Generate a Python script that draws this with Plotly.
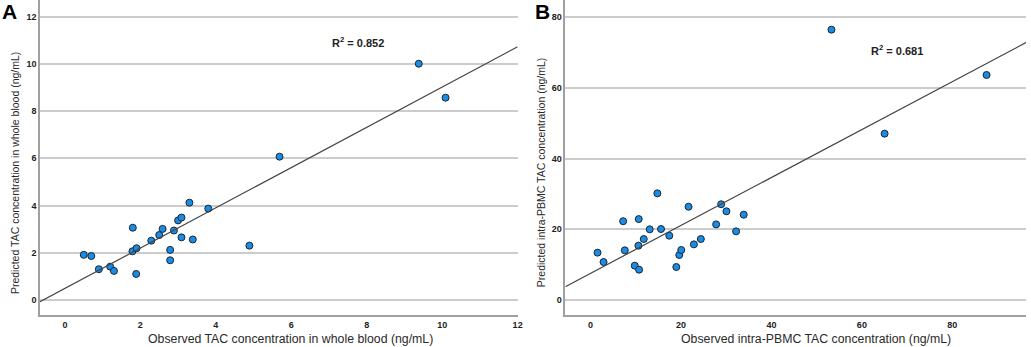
import plotly.graph_objects as go

# Panel A: whole blood
obs_a = [0.50, 0.70, 0.90, 1.20, 1.30, 1.80, 1.79, 1.90, 1.89, 2.29, 2.50, 2.59, 2.89,
         2.79, 2.79, 3.00, 3.09, 3.09, 3.30, 3.39, 3.80, 4.89, 5.69, 9.38, 10.09]
pred_a = [1.91, 1.86, 1.30, 1.41, 1.23, 3.06, 2.06, 2.19, 1.10, 2.51, 2.75, 3.01, 2.94,
          2.12, 1.68, 3.37, 3.49, 2.65, 4.12, 2.56, 3.87, 2.30, 6.07, 10.01, 8.57]
fit_a = (0.49, 0.853)  # intercept, slope
r2_a = "0.852"

# Panel B: intra-PBMC
obs_b = [1.54, 2.87, 7.20, 7.57, 9.77, 10.65, 10.58, 10.73, 11.76, 13.08, 14.77, 15.58,
         17.41, 18.96, 19.62, 20.06, 21.67, 22.85, 24.39, 27.77, 28.88, 30.05, 32.18,
         33.87, 53.27, 65.03, 87.58]
pred_b = [13.4, 10.75, 22.3, 14.06, 9.72, 22.9, 15.38, 8.58, 17.26, 20.0, 30.19, 20.09,
          18.2, 9.34, 12.74, 14.15, 26.4, 15.75, 17.26, 21.4, 27.1, 25.1, 19.43,
          24.15, 76.5, 47.08, 63.68]
fit_b = (7.55, 0.678)
r2_b = "0.681"

xr_a, yr_a = [-0.66, 12.0], [-0.64, 12.71]
xr_b, yr_b = [-5.58, 96.3], [-4.24, 84.9]

marker = dict(size=7, color="#1b8ce3", line=dict(color="#1a2633", width=1))
line_style = dict(color="#444444", width=1.2)

fig = go.Figure()
fig.add_trace(go.Scatter(x=obs_a, y=pred_a, mode="markers", marker=marker,
                         xaxis="x", yaxis="y", showlegend=False))
fig.add_trace(go.Scatter(x=xr_a, y=[fit_a[0] + fit_a[1] * v for v in xr_a], mode="lines",
                         line=line_style, xaxis="x", yaxis="y", showlegend=False))
fig.add_trace(go.Scatter(x=obs_b, y=pred_b, mode="markers", marker=marker,
                         xaxis="x2", yaxis="y2", showlegend=False))
fig.add_trace(go.Scatter(x=xr_b, y=[fit_b[0] + fit_b[1] * v for v in xr_b], mode="lines",
                         line=line_style, xaxis="x2", yaxis="y2", showlegend=False))

tickfont = dict(family="Liberation Sans", size=9, color="#222222", weight="bold")
ax_common = dict(showline=True, linecolor="#a0a0a0", linewidth=1.5, zeroline=False,
                 ticks="", tickfont=tickfont)

fig.update_layout(
    width=1031, height=347,
    margin=dict(l=40, r=0, t=0, b=32),
    plot_bgcolor="white", paper_bgcolor="white",
    xaxis=dict(domain=[0, 0.4844], range=xr_a, tickvals=[0, 2, 4, 6, 8, 10, 12],
               showgrid=False, anchor="y", **ax_common),
    yaxis=dict(range=yr_a, tickvals=[0, 2, 4, 6, 8, 10, 12], showgrid=True,
               gridcolor="#cccccc", gridwidth=1.5, anchor="x", **ax_common),
    xaxis2=dict(domain=[0.5328, 1], range=xr_b, tickvals=[0, 20, 40, 60, 80],
                showgrid=False, anchor="y2", **ax_common),
    yaxis2=dict(range=yr_b, tickvals=[0, 20, 40, 60, 80], showgrid=True,
                gridcolor="#cccccc", gridwidth=1.5, anchor="x2", **ax_common),
)

xt_font = dict(family="Liberation Sans", size=12.3, color="#2a2a2a")
yt_font = dict(family="Liberation Sans", size=10.5, color="#2a2a2a")
ann = []
ann.append(dict(text="Observed TAC concentration in whole blood (ng/mL)", xref="paper", yref="paper",
                x=0.2543, y=-0.076, xanchor="center", yanchor="middle", showarrow=False, font=xt_font))
ann.append(dict(text="Observed intra-PBMC TAC concentration (ng/mL)", xref="paper", yref="paper",
                x=0.787, y=-0.076, xanchor="center", yanchor="middle", showarrow=False, font=xt_font))
ann.append(dict(text="Predicted TAC concentration in whole blood (ng/mL)", xref="paper", yref="paper",
                x=-0.0252, y=0.451, xanchor="center", yanchor="middle", textangle=-90,
                showarrow=False, font=yt_font))
ann.append(dict(text="Predicted intra-PBMC TAC concentration (ng/mL)", xref="paper", yref="paper",
                x=0.5076, y=0.455, xanchor="center", yanchor="middle", textangle=-90,
                showarrow=False, font=yt_font))
r2font = dict(family="Liberation Sans", size=11, color="#222222", weight="bold")
ann.append(dict(text="R<sup>2</sup> = " + r2_a, xref="x", yref="y", x=7.76, y=10.91,
                xanchor="center", yanchor="middle", showarrow=False, font=r2font))
ann.append(dict(text="R<sup>2</sup> = " + r2_b, xref="x2", yref="y2", x=67.7, y=70.8,
                xanchor="center", yanchor="middle", showarrow=False, font=r2font))
letter_font = dict(family="Liberation Sans", size=21, color="#000000", weight="bold")
ann.append(dict(text="A", xref="paper", yref="paper", x=-0.0404, y=0.965,
                xanchor="left", yanchor="middle", showarrow=False, font=letter_font))
ann.append(dict(text="B", xref="paper", yref="paper", x=0.4995, y=0.965,
                xanchor="left", yanchor="middle", showarrow=False, font=letter_font))
fig.update_layout(annotations=ann)

fig.write_html("out.html", config={"displayModeBar": False},
               post_script="document.body.style.margin='0';")
